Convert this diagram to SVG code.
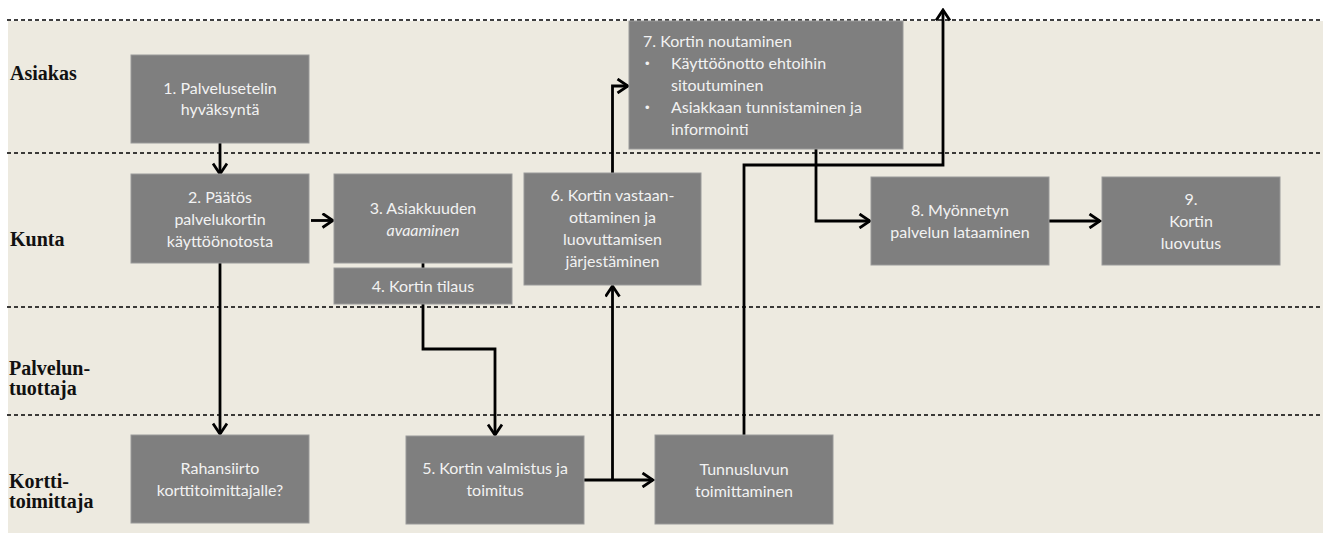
<svg xmlns="http://www.w3.org/2000/svg" width="1330" height="535" viewBox="0 0 1330 535">
  <style>
    .lane { fill: none; stroke: #000; stroke-width: 1.3; stroke-dasharray: 4 3; }
    .lbl { font-family: "Liberation Serif", serif; font-weight: bold; font-size: 20px; fill: #111; }
    .box { fill: #7f7f7f; stroke: #9a9a9a; stroke-width: 1; }
    .txt { font-family: Lato, "Liberation Sans", sans-serif; font-size: 16px; fill: #f2f2f2; text-anchor: middle; }
    .txtl { font-family: Lato, "Liberation Sans", sans-serif; font-size: 16px; fill: #f2f2f2; }
    .bul { font-family: "Liberation Sans", sans-serif; font-size: 13px; fill: #f2f2f2; }
    .con { fill: none; stroke: #000; stroke-width: 2.8; }
  </style>
  <defs>
    <marker id="arrow" viewBox="0 0 14 16" refX="12" refY="8" markerWidth="14" markerHeight="16" markerUnits="userSpaceOnUse" orient="auto">
      <path d="M1.5,1 L12,8 L1.5,15" fill="none" stroke="#000" stroke-width="2.8"/>
    </marker>
  </defs>

  <rect width="1330" height="535" fill="#ffffff"/>
  <rect x="8" y="21" width="1315" height="512" fill="#edeae0"/>

  <!-- swimlane separators and lane titles -->
  <g id="lanes">
    <line class="lane" x1="7" y1="20" x2="1323" y2="20"/>
    <line class="lane" x1="7" y1="153" x2="1323" y2="153"/>
    <line class="lane" x1="7" y1="307" x2="1323" y2="307"/>
    <line class="lane" x1="7" y1="415" x2="1323" y2="415"/>
    <text class="lbl" x="10" y="80">Asiakas</text>
    <text class="lbl" x="10" y="246">Kunta</text>
    <text class="lbl" x="9" y="375">Palvelun-</text>
    <text class="lbl" x="9" y="395">tuottaja</text>
    <text class="lbl" x="9" y="488">Kortti-</text>
    <text class="lbl" x="9" y="508">toimittaja</text>
  </g>

  <g id="connectors">
    <line class="con" x1="220" y1="143" x2="220" y2="174" marker-end="url(#arrow)"/>
    <line class="con" x1="311" y1="220.5" x2="333" y2="220.5" marker-end="url(#arrow)"/>
    <line class="con" x1="220" y1="263" x2="220" y2="434" marker-end="url(#arrow)"/>
    <line class="con" x1="423" y1="263" x2="423" y2="268"/>
    <path class="con" d="M423,304 V349 H495 V435" marker-end="url(#arrow)"/>
    <line class="con" x1="584" y1="480" x2="653" y2="480" marker-end="url(#arrow)"/>
    <path class="con" d="M612.5,480 V286" marker-end="url(#arrow)"/>
    <path class="con" d="M612.5,173 V86 H628" marker-end="url(#arrow)"/>
    <path class="con" d="M744,435 V165 H943 V10" marker-end="url(#arrow)"/>
    <path class="con" d="M816,149 V221 H870" marker-end="url(#arrow)"/>
    <line class="con" x1="1049" y1="221" x2="1100" y2="221" marker-end="url(#arrow)"/>
  </g>

  <g id="n1">
    <rect class="box" x="131" y="55" width="178" height="88"/>
    <text class="txt" x="220" y="94">1. Palvelusetelin</text>
    <text class="txt" x="220" y="115">hyväksyntä</text>
  </g>
  <g id="n2">
    <rect class="box" x="131" y="174" width="178" height="89"/>
    <text class="txt" x="220" y="203">2. Päätös</text>
    <text class="txt" x="220" y="225">palvelukortin</text>
    <text class="txt" x="220" y="247">käyttöönotosta</text>
  </g>
  <g id="n3">
    <rect class="box" x="334" y="174" width="178" height="89"/>
    <text class="txt" x="423" y="214">3. Asiakkuuden</text>
    <text class="txt" x="423" y="236" font-style="italic">avaaminen</text>
  </g>
  <g id="n4">
    <rect class="box" x="334" y="268" width="178" height="36"/>
    <text class="txt" x="423" y="292">4. Kortin tilaus</text>
  </g>
  <g id="n5">
    <rect class="box" x="406" y="436" width="178" height="88"/>
    <text class="txt" x="495" y="474">5. Kortin valmistus ja</text>
    <text class="txt" x="495" y="496">toimitus</text>
  </g>
  <g id="n6">
    <rect class="box" x="524" y="173" width="177" height="112"/>
    <text class="txt" x="612.5" y="201">6. Kortin vastaan-</text>
    <text class="txt" x="612.5" y="223">ottaminen ja</text>
    <text class="txt" x="612.5" y="245">luovuttamisen</text>
    <text class="txt" x="612.5" y="267">järjestäminen</text>
  </g>
  <g id="n7">
    <rect class="box" x="629" y="21" width="274" height="128"/>
    <text class="txtl" x="643" y="47">7. Kortin noutaminen</text>
    <text class="bul" x="645" y="68">•</text>
    <text class="txtl" x="671" y="69">Käyttöönotto ehtoihin</text>
    <text class="txtl" x="671" y="91">sitoutuminen</text>
    <text class="bul" x="645" y="112">•</text>
    <text class="txtl" x="671" y="113">Asiakkaan tunnistaminen ja</text>
    <text class="txtl" x="671" y="135">informointi</text>
  </g>
  <g id="n8">
    <rect class="box" x="871" y="177" width="178" height="88"/>
    <text class="txt" x="960" y="216">8. Myönnetyn</text>
    <text class="txt" x="960" y="238">palvelun lataaminen</text>
  </g>
  <g id="n9">
    <rect class="box" x="1102" y="177" width="178" height="88"/>
    <text class="txt" x="1191" y="205">9.</text>
    <text class="txt" x="1191" y="227">Kortin</text>
    <text class="txt" x="1191" y="249">luovutus</text>
  </g>
  <g id="n-rahansiirto">
    <rect class="box" x="131" y="435" width="178" height="88"/>
    <text class="txt" x="220" y="474">Rahansiirto</text>
    <text class="txt" x="220" y="496">korttitoimittajalle?</text>
  </g>
  <g id="n-tunnusluku">
    <rect class="box" x="655" y="435" width="178" height="89"/>
    <text class="txt" x="744" y="475">Tunnusluvun</text>
    <text class="txt" x="744" y="497">toimittaminen</text>
  </g>
</svg>
